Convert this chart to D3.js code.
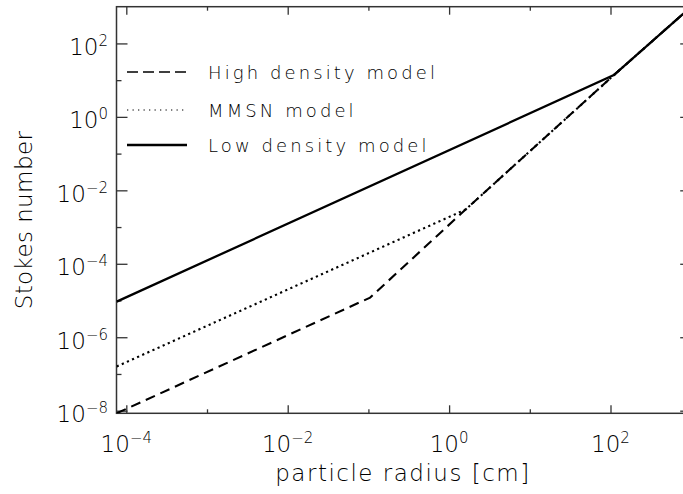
<!DOCTYPE html>
<html>
<head>
<meta charset="utf-8">
<script src="https://cdn.jsdelivr.net/npm/d3@7"></script>
<style>
	body { margin: 0; background: #fff; }
	svg { display: block; }
	text { font-family: "DejaVu Sans", sans-serif; font-weight: 200; fill: #000; }
	.frame { fill: none; stroke: #333; stroke-width: 1.5; }
	.tick line { stroke: #333; stroke-width: 1.3; }
	.domain { display: none; }
</style>
</head>
<body>
<div id="chart"></div>
<script>
// particle radius [cm] / Stokes number at the break points
var highRadius = [7.6e-5, 0.105, 1.6, 110, 1000];
var highStokes = [8.5e-9, 1.2e-5, 3.0e-3, 13.7, 1000];
var mmsnRadius = [7.6e-5, 1.6, 110, 1000];
var mmsnStokes = [1.6e-7, 3.0e-3, 13.7, 1000];
var lowRadius = [7.6e-5, 110, 1000];
var lowStokes = [9.3e-6, 13.7, 1000];

var seriesNames = ['High density model', 'MMSN model', 'Low density model'];

var xMajor = [1e-4, 1e-2, 1, 1e2];
var xMinor = [1e-3, 1e-1, 10];
var yMajor = [1e-8, 1e-6, 1e-4, 1e-2, 1, 1e2];
var yMinor = [1e-7, 1e-5, 1e-3, 1e-1, 10];

(function() {
	var width = 683, height = 494;
	var pLeft = 116.5, pRight = 691.2, pTop = 6.7, pBottom = 413.3;

	var svg = d3.select('#chart').append('svg')
		.attr('width', width)
		.attr('height', height);

	var x = d3.scaleLog().domain([7.56e-5, 1e3]).range([pLeft, pRight]);
	var y = d3.scaleLog().domain([8.49e-9, 1e3]).range([pBottom, pTop]);

	svg.append('clipPath').attr('id', 'plotclip')
		.append('rect')
		.attr('x', pLeft).attr('y', pTop)
		.attr('width', pRight - pLeft).attr('height', pBottom - pTop);

	// ticks on all four sides, pointing inward
	function ticks(axis, vals, size, tx, ty) {
		svg.append('g')
			.attr('transform', 'translate(' + tx + ',' + ty + ')')
			.call(axis.tickValues(vals).tickSize(size).tickFormat(''));
	}
	ticks(d3.axisBottom(x), xMajor, -8, 0, pBottom);
	ticks(d3.axisBottom(x), xMinor, -4, 0, pBottom);
	ticks(d3.axisTop(x), xMajor, -8, 0, pTop);
	ticks(d3.axisTop(x), xMinor, -4, 0, pTop);
	ticks(d3.axisLeft(y), yMajor, -11, pLeft, 0);
	ticks(d3.axisLeft(y), yMinor, -5, pLeft, 0);
	ticks(d3.axisRight(y), yMajor, -11, pRight, 0);
	ticks(d3.axisRight(y), yMinor, -5, pRight, 0);

	svg.append('rect').attr('class', 'frame')
		.attr('x', pLeft).attr('y', pTop)
		.attr('width', pRight - pLeft).attr('height', pBottom - pTop);

	function expOf(v) {
		var e = Math.round(Math.log10(v));
		return e < 0 ? '\u2212' + (-e) : '' + e;
	}

	function powerLabel(sel) {
		sel.append('tspan').text('10');
		sel.append('tspan')
			.attr('dy', -9)
			.attr('font-size', 15)
			.text(function(d) { return expOf(d); });
	}

	svg.selectAll('.xlab').data(xMajor).enter()
		.append('text')
			.attr('class', 'xlab')
			.attr('x', function(d) { return x(d); })
			.attr('y', 452)
			.attr('text-anchor', 'middle')
			.attr('font-size', 23)
			.call(powerLabel);

	svg.selectAll('.ylab').data(yMajor).enter()
		.append('text')
			.attr('class', 'ylab')
			.attr('x', 108)
			.attr('y', function(d) { return y(d) + 11.6; })
			.attr('text-anchor', 'end')
			.attr('font-size', 23)
			.call(powerLabel);

	svg.append('text')
		.attr('x', 403)
		.attr('y', 481)
		.attr('text-anchor', 'middle')
		.attr('font-size', 23)
		.attr('letter-spacing', 1.5)
		.text('particle radius [cm]');

	svg.append('text')
		.attr('transform', 'translate(32,220) rotate(-90)')
		.attr('text-anchor', 'middle')
		.attr('font-size', 23)
		.attr('letter-spacing', 0.4)
		.text('Stokes number');

	var line = d3.line()
		.x(function(d) { return x(d[0]); })
		.y(function(d) { return y(d[1]); });

	var series = [
		{ radius: highRadius, stokes: highStokes, dash: '10,6', legendDash: '11,5', lw: 2.1, legendLw: 1.6 },
		{ radius: mmsnRadius, stokes: mmsnStokes, dash: '2.2,3.4', legendDash: '1.3,4.2', lw: 2.1, legendLw: 1.2 },
		{ radius: lowRadius, stokes: lowStokes, dash: null, legendDash: null, lw: 2.3, legendLw: 2.6 }
	];

	var plot = svg.append('g').attr('clip-path', 'url(#plotclip)');
	series.forEach(function(s) {
		plot.append('path')
			.datum(d3.zip(s.radius, s.stokes))
			.attr('d', line)
			.attr('fill', 'none')
			.attr('stroke', '#000')
			.attr('stroke-width', s.lw)
			.attr('stroke-dasharray', s.dash);
	});

	var legendY = [72, 110, 145];
	var legend = svg.selectAll('.legend').data(series).enter()
		.append('g')
			.attr('class', 'legend')
			.attr('transform', function(d, i) { return 'translate(0,' + legendY[i] + ')'; });

	legend.append('line')
		.attr('x1', 127).attr('x2', 187)
		.attr('stroke', '#000')
		.attr('stroke-width', function(d) { return d.legendLw; })
		.attr('stroke-dasharray', function(d) { return d.legendDash; });

	legend.append('text')
		.attr('x', 208)
		.attr('y', 7)
		.attr('font-size', 18)
		.attr('letter-spacing', 3.1)
		.text(function(d, i) { return seriesNames[i]; });
})();
</script>
</body>
</html>
